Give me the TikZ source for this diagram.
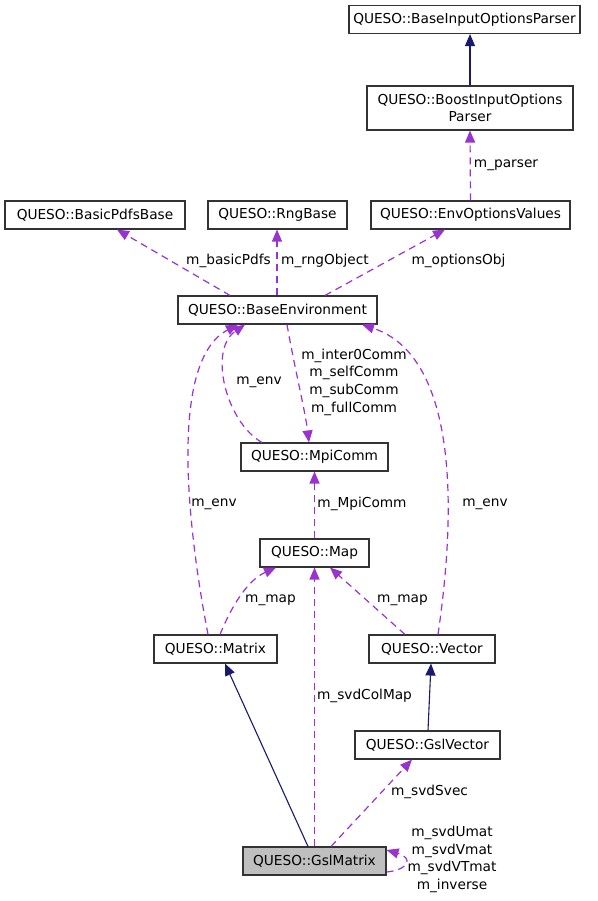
\documentclass[tikz,border=0pt]{standalone}
\usepackage{fontspec}
\setmainfont{DejaVu Sans}
\usetikzlibrary{arrows.meta}
\definecolor{inhcol}{HTML}{191970}
\definecolor{relcol}{HTML}{9A32CD}
\tikzset{
  cls/.style={draw=black!80, line width=1.1pt, fill=white, minimum height=28pt, inner sep=0pt},
  inh/.style={draw=inhcol, line width=1.1pt, -{Triangle[length=12pt,width=10pt]}, inhcol},
  rel/.style={draw=relcol, line width=1.2pt, dash pattern=on 7pt off 5pt, -{Triangle[length=12pt,width=10pt]}, relcol},
  lbl/.style={inner sep=0pt, align=center}
}
\begin{document}
\begin{tikzpicture}[x=1pt, y=-1pt, font=\fontsize{13.7}{17.7}\selectfont]
  \useasboundingbox (0,0) rectangle (597,901);
  %classes
  \node[cls, minimum width=231pt] (parser) at (464.5,19.5) {QUESO::BaseInputOptionsParser};
  \node[cls, minimum width=206pt, minimum height=44pt, align=center] (boost) at (470,108) {QUESO::BoostInputOptions\\Parser};
  \node[cls, minimum width=199pt] (envopt) at (470.5,215) {QUESO::EnvOptionsValues};
  \node[cls, minimum width=180pt] (pdfs) at (95,215) {QUESO::BasicPdfsBase};
  \node[cls, minimum width=139pt] (rng) at (277.5,215) {QUESO::RngBase};
  \node[cls, minimum width=199pt] (benv) at (277.5,310) {QUESO::BaseEnvironment};
  \node[cls, minimum width=147pt] (mpi) at (314.5,457) {QUESO::MpiComm};
  \node[cls, minimum width=109pt] (map) at (314.5,553) {QUESO::Map};
  \node[cls, minimum width=123pt] (matrix) at (215.5,649) {QUESO::Matrix};
  \node[cls, minimum width=126pt] (vector) at (432,649) {QUESO::Vector};
  \node[cls, minimum width=145pt] (gslvec) at (427.5,745) {QUESO::GslVector};
  \node[cls, minimum width=143pt, fill=black!25] (gslmat) at (314.5,861) {QUESO::GslMatrix};
  %heritage
  \draw[inh] (boost.north) -- ([xshift=5.5pt]parser.south);
  \draw[inh] ([xshift=-6.5pt]gslmat.north) -- ([xshift=9.5pt]matrix.south);
  \draw[inh] ([xshift=0.5pt]gslvec.north) -- ([xshift=-1pt]vector.south);
  %membres
  \draw[rel] (envopt.north) -- (boost.south);
  \draw[rel] ([xshift=-47.5pt]benv.north) -- ([xshift=22pt]pdfs.south);
  \draw[rel] ([xshift=-0.5pt]benv.north) -- ([xshift=-0.5pt]rng.south);
  \draw[rel] ([xshift=47.5pt]benv.north) -- ([xshift=-25.5pt]envopt.south);
  \draw[rel] ([xshift=-52.5pt]mpi.north) .. controls (226,422) and (208,350) .. ([xshift=-32.5pt]benv.south);
  \draw[rel] ([xshift=9.5pt]benv.south) .. controls (295,370) and (305,410) .. ([xshift=-5.5pt]mpi.north);
  \draw[rel] ([xshift=-7.5pt]matrix.north) .. controls (186,520) and (170,360) .. ([xshift=-39.5pt]benv.south);
  \draw[rel] ([xshift=6pt]vector.north) .. controls (462,470) and (445,352) .. ([xshift=84.5pt]benv.south);
  \draw[rel] (map.north) -- (mpi.south);
  \draw[rel] ([xshift=4.5pt]matrix.north) .. controls (232,605) and (248,580) .. ([xshift=-38.5pt]map.south);
  \draw[rel] ([xshift=-27pt]vector.north) -- ([xshift=15.5pt]map.south);
  \draw[rel] (gslmat.north) -- (map.south);
  \draw[rel] ([xshift=16.5pt]gslmat.north) -- ([xshift=-15.5pt]gslvec.south);
  \draw[rel] ([yshift=-11pt]gslmat.east) .. controls (408,870) and (414,858) .. ([yshift=11pt]gslmat.east);
  %etiquettes
  \node[lbl] (lparser) at (506,165) {m\_parser};
  \node[lbl] (lpdfs) at (228.5,261) {m\_basicPdfs};
  \node[lbl] (lrng) at (325,261) {m\_rngObject};
  \node[lbl] (lopt) at (458.5,261) {m\_optionsObj};
  \node[lbl] (lenvmpi) at (259,382) {m\_env};
  \node[lbl] (lcomm) at (354,382) {m\_inter0Comm\\m\_selfComm\\m\_subComm\\m\_fullComm};
  \node[lbl] (lenvmat) at (214,504) {m\_env};
  \node[lbl] (lmpi) at (362,504) {m\_MpiComm};
  \node[lbl] (lenvvec) at (485,504) {m\_env};
  \node[lbl] (lmapmat) at (270.5,600) {m\_map};
  \node[lbl] (lmapvec) at (402.5,600) {m\_map};
  \node[lbl] (lcol) at (364.5,696) {m\_svdColMap};
  \node[lbl] (lsvec) at (429.5,792) {m\_svdSvec};
  \node[lbl] (lself) at (452,859.5) {m\_svdUmat\\m\_svdVmat\\m\_svdVTmat\\m\_inverse};
\end{tikzpicture}
\end{document}
